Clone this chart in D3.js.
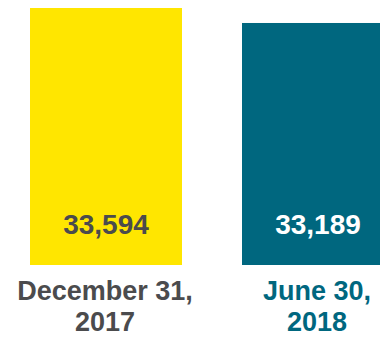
<!DOCTYPE html>
<html>
<head>
<meta charset="utf-8">
<script src="https://cdn.jsdelivr.net/npm/d3@7"></script>
<style>
  body { margin: 0; background: #fff; }
  svg { display: block; font-family: "Liberation Sans", Arial, sans-serif; font-weight: bold; }
</style>
</head>
<body>
<div class="bar_chart"></div>
<script>
// data
var categories = ["December 31, 2017", "June 30, 2018"];
var labelLines = [["December 31,", "2017"], ["June 30,", "2018"]];
var values = [33594, 33189];
var barColors = ["#FFE600", "#00677F"];
var valueColors = ["#4B4B4D", "#FFFFFF"];
var labelColors = ["#4B4B4D", "#00677F"];

var width = 380, height = 337;

var svg = d3
  .select(".bar_chart")
  .append("svg")
  .attr("width", width)
  .attr("height", height);

// scales
var x = d3.scaleBand()
  .domain(categories)
  .range([30, 394])
  .paddingInner(60 / 212)
  .paddingOuter(0);

// value axis does not start at zero in the original
var y = d3.scaleLinear()
  .domain([26650, 33594])
  .range([265, 8]);

var bars = svg
  .selectAll(".bar")
  .data(categories)
  .enter()
  .append("g")
  .attr("class", "bar");

bars
  .append("rect")
  .attr("x", function (d) { return x(d); })
  .attr("y", function (d, i) { return y(values[i]); })
  .attr("width", x.bandwidth())
  .attr("height", function (d, i) { return y(y.domain()[0]) - y(values[i]); })
  .attr("fill", function (d, i) { return barColors[i]; });

// value labels
bars
  .append("text")
  .attr("x", function (d) { return x(d) + x.bandwidth() / 2; })
  .attr("y", 234)
  .attr("text-anchor", "middle")
  .attr("font-size", "28px")
  .attr("fill", function (d, i) { return valueColors[i]; })
  .text(function (d, i) { return d3.format(",")(values[i]); });

// category labels (two lines)
bars
  .append("text")
  .attr("text-anchor", "middle")
  .attr("font-size", "27px")
  .attr("fill", function (d, i) { return labelColors[i]; })
  .each(function (d, i) {
    var t = d3.select(this);
    labelLines[i].forEach(function (line, j) {
      t.append("tspan")
        .attr("x", x(d) + x.bandwidth() / 2 - 1)
        .attr("y", 300 + j * 31)
        .text(line);
    });
  });
</script>
</body>
</html>
